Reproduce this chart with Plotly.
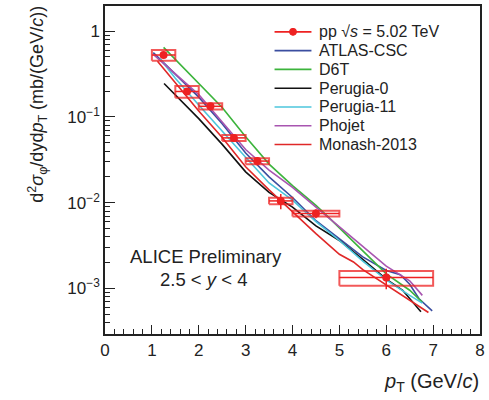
import plotly.graph_objects as go

# ---------------- data ----------------
pt = [1.25, 1.75, 2.25, 2.75, 3.25, 3.75, 4.5, 6.0]
pt_half = [0.25, 0.25, 0.25, 0.25, 0.25, 0.25, 0.5, 1.0]
xsec = [0.527, 0.198, 0.133, 0.0570, 0.0306, 0.0105, 0.0075, 0.00134]
stat = [0.045, 0.015, 0.008, 0.004, 0.0033, 0.0021, 0.0009, 0.00036]
syst = [0.074, 0.031, 0.011, 0.0047, 0.0025, 0.0009, 0.00057, 0.00026]

atlas_x = [1.03, 1.5, 2.0, 2.5, 3.0, 3.5, 4.0, 4.5, 5.0, 5.5, 6.0, 6.3, 6.5, 6.7, 6.98]
atlas_y = [0.562, 0.316, 0.170, 0.0832, 0.0380, 0.0200, 0.0115, 0.00617, 0.00380, 0.00234, 0.00162, 0.00145, 0.00112, 0.000759, 0.000550]

d6t_x = [1.25, 1.5, 2.0, 2.5, 3.0, 3.5, 4.0, 4.5, 4.75, 5.0, 5.5, 6.0, 6.5, 6.77]
d6t_y = [0.646, 0.468, 0.245, 0.129, 0.0589, 0.0282, 0.0158, 0.00933, 0.00692, 0.00513, 0.00275, 0.00148, 0.000955, 0.000692]

p0_x = [1.26, 1.5, 2.0, 2.5, 3.0, 3.5, 4.0, 4.5, 5.0, 5.5, 6.0, 6.35, 6.74]
p0_y = [0.245, 0.182, 0.0955, 0.0479, 0.0229, 0.0132, 0.00891, 0.00537, 0.00363, 0.00219, 0.00129, 0.000955, 0.000537]

p11_x = [1.17, 1.5, 2.0, 2.5, 3.0, 3.5, 4.0, 4.5, 5.0, 5.5, 6.0, 6.5, 6.77]
p11_y = [0.479, 0.282, 0.138, 0.0676, 0.0339, 0.0170, 0.0107, 0.00603, 0.00363, 0.00209, 0.00126, 0.000832, 0.000676]

phojet_x = [1.03, 1.5, 2.0, 2.5, 3.0, 3.5, 4.0, 4.5, 5.0, 5.5, 6.0, 6.5, 6.77]
phojet_y = [0.537, 0.316, 0.182, 0.0871, 0.0417, 0.0240, 0.0151, 0.00891, 0.00525, 0.00302, 0.00182, 0.00123, 0.000832]

monash_x = [1.12, 1.5, 2.0, 2.5, 3.0, 3.5, 4.0, 4.5, 5.0, 5.3, 5.5, 6.0, 6.5, 6.9]
monash_y = [0.447, 0.251, 0.117, 0.0575, 0.0263, 0.0141, 0.00776, 0.00437, 0.00251, 0.00204, 0.00166, 0.00110, 0.000724, 0.000525]

y_tickvals = [1e-3, 1e-2, 1e-1, 1]
y_ticktext = ["10<sup>−3</sup>", "10<sup>−2</sup>", "10<sup>−1</sup>", "1"]
y_minor = [m * 10.0 ** e for e in (-4, -3, -2, -1, 0) for m in range(2, 10)]

# ---------------- figure ----------------
FONT = "Liberation Sans, Arial, sans-serif"
TXT = "#222222"
RED = "#ee2222"

W, H = 489, 400
ML, MR, MT, MB = 105, 8, 4, 66
PW, PH = W - ML - MR, H - MT - MB

def px(xp):
    return (xp - ML) / PW

def py(yp):
    return (H - MB - yp) / PH

fig = go.Figure()

models = [
    ("ATLAS-CSC", atlas_x, atlas_y, "#3b4ea0"),
    ("D6T", d6t_x, d6t_y, "#3cb43c"),
    ("Perugia-0", p0_x, p0_y, "#111111"),
    ("Perugia-11", p11_x, p11_y, "#4cc6dc"),
    ("Phojet", phojet_x, phojet_y, "#a855b0"),
    ("Monash-2013", monash_x, monash_y, "#e02828"),
]

# systematic boxes built from the data arrays
bx, by = [], []
for x, hw, y, s in zip(pt, pt_half, xsec, syst):
    bx += [x - hw, x + hw, x + hw, x - hw, x - hw, None]
    by += [y - s, y - s, y + s, y + s, y - s, None]

for name, xs, ys, col in models:
    fig.add_trace(go.Scatter(x=xs, y=ys, mode="lines", name=name,
                             line=dict(color=col, width=1.6), showlegend=False))

fig.add_trace(go.Scatter(x=bx, y=by, mode="lines", showlegend=False,
                         line=dict(color="rgba(238,34,34,0.75)", width=2),
                         hoverinfo="skip"))

fig.add_trace(go.Scatter(
    x=pt, y=xsec, mode="markers", name="pp √<i>s</i> = 5.02 TeV",
    marker=dict(color=RED, size=8),
    error_x=dict(type="data", array=pt_half, color=RED, thickness=1.5, width=0),
    error_y=dict(type="data", array=stat, color=RED, thickness=1.5, width=0),
    showlegend=False))

# custom legend (ROOT-style compact rows)
leg_entries = [("pp √<i>s</i> = 5.02 TeV", RED)] + [(m[0], m[3]) for m in models]
row0, drow = 30.0, 18.9
for i, (label, col) in enumerate(leg_entries):
    yc = py(row0 + i * drow)
    fig.add_shape(type="line", xref="paper", yref="paper",
                  x0=px(275), x1=px(312), y0=yc, y1=yc,
                  line=dict(color=col, width=1.6))
    if i == 0:
        fig.add_shape(type="circle", xref="paper", yref="paper",
                      x0=px(290), x1=px(297), y0=yc - 3.5 / PH, y1=yc + 3.5 / PH,
                      line=dict(color=col, width=1), fillcolor=col)
    fig.add_annotation(text=label, xref="paper", yref="paper",
                       x=px(318), y=yc, xanchor="left", yanchor="middle",
                       showarrow=False, font=dict(size=16, color=TXT))

fig.update_layout(
    width=W, height=H,
    margin=dict(l=ML, r=MR, t=MT, b=MB),
    paper_bgcolor="white", plot_bgcolor="white",
    font=dict(family=FONT, size=17, color=TXT),
    showlegend=False,
    xaxis=dict(range=[0, 8], showgrid=False, zeroline=False,
               showline=True, linecolor="#222", linewidth=1.5, mirror=True,
               ticks="inside", ticklen=9, tickwidth=1.2, tickcolor="#222",
               dtick=1, tick0=0,
               minor=dict(ticks="inside", ticklen=5, dtick=0.2, tickcolor="#222",
                          tickwidth=1, showgrid=False),
               tickfont=dict(size=17)),
    yaxis=dict(type="log", range=[-3.53, 0.293], showgrid=False, zeroline=False,
               showline=True, linecolor="#222", linewidth=1.5, mirror=True,
               ticks="inside", ticklen=10, tickwidth=1.2, tickcolor="#222",
               tickvals=y_tickvals, ticktext=y_ticktext,
               minor=dict(ticks="inside", ticklen=5, tickvals=y_minor,
                          tickcolor="#222", tickwidth=1, showgrid=False),
               tickfont=dict(size=17)),
)

fig.add_annotation(text="d<sup>2</sup><i>σ</i><sub>φ</sub>/dyd<i>p</i><sub>T</sub> (mb/(GeV/<i>c</i>))",
                   xref="paper", yref="paper", x=px(37), y=py(2),
                   xanchor="center", yanchor="top", textangle=-90,
                   showarrow=False, font=dict(size=18, color=TXT))
fig.add_annotation(text="<i>p</i><sub>T</sub> (GeV/<i>c</i>)",
                   xref="paper", yref="paper", x=px(482), y=py(368),
                   xanchor="right", yanchor="top",
                   showarrow=False, font=dict(size=20, color=TXT))
fig.add_annotation(text="ALICE Preliminary", xref="x", yref="paper",
                   x=2.15, y=py(256), xanchor="center", yanchor="middle",
                   showarrow=False, font=dict(size=18.5, color=TXT))
fig.add_annotation(text="2.5 < <i>y</i> < 4", xref="x", yref="paper",
                   x=2.1, y=py(279), xanchor="center", yanchor="middle",
                   showarrow=False, font=dict(size=18.5, color=TXT))

fig.write_html("out.html")
